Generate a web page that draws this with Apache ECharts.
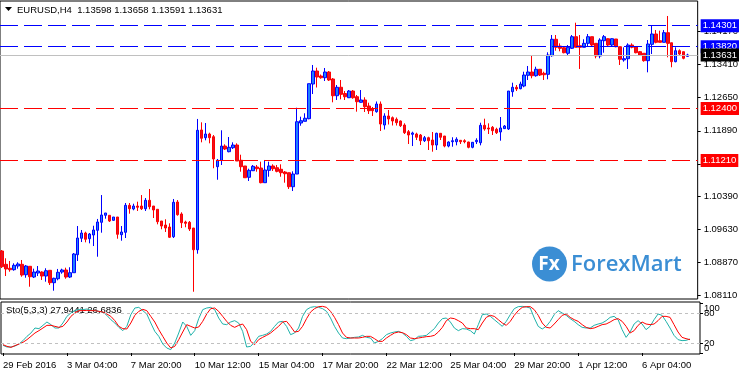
<!DOCTYPE html>
<html><head><meta charset="utf-8">
<script src="https://cdn.jsdelivr.net/npm/echarts@6/dist/echarts.min.js"></script>
<style>html,body{margin:0;padding:0;background:#fff}#c{width:741px;height:375px}</style>
</head><body><div id="c"></div>
<script>
// ---- DATA (EURUSD H4) ----
const open=[1.09133,1.08828,1.08737,1.08704,1.08789,1.08828,1.08589,1.08782,1.08536,1.08628,
1.08651,1.08559,1.0869,1.08406,1.08497,1.08651,1.08697,1.08536,1.08635,1.09048,
1.09425,1.09546,1.09415,1.095,1.09608,1.09791,1.09952,1.09952,1.09837,1.09913,
1.09507,1.09562,1.10181,1.10097,1.10165,1.10165,1.10103,1.10296,1.10165,1.1009,
1.09821,1.09729,1.09683,1.09461,1.10257,1.09982,1.09798,1.09791,1.0966,1.09162,
1.11909,1.11732,1.11817,1.11755,1.11067,1.11214,1.11541,1.11411,1.11502,1.11564,
1.11214,1.11083,1.10824,1.10975,1.1106,1.11037,1.107,1.10984,1.11083,1.11044,
1.11008,1.10945,1.10929,1.10608,1.10899,1.12069,1.12108,1.12168,1.12964,1.13262,
1.13147,1.13108,1.13239,1.13079,1.12695,1.12889,1.12746,1.12649,1.12803,1.12672,
1.12544,1.12597,1.12459,1.12397,1.12329,1.12505,1.12023,1.1223,1.12191,1.12155,
1.12115,1.12023,1.1187,1.1181,1.11817,1.11794,1.11663,1.11732,1.11679,1.11564,
1.11833,1.11771,1.11541,1.1164,1.1164,1.11672,1.11663,1.11633,1.11512,1.1164,
1.11617,1.12016,1.11955,1.11971,1.11925,1.11863,1.1194,1.11932,1.12787,1.12889,
1.12856,1.12918,1.13163,1.13239,1.13154,1.13302,1.13209,1.13186,1.13613,1.1399,
1.13835,1.13796,1.13668,1.13783,1.14049,1.13842,1.13806,1.13897,1.14049,1.13897,
1.13606,1.13957,1.14003,1.13858,1.13996,1.13819,1.13515,1.13544,1.13858,1.13819,
1.13705,1.13668,1.13499,1.13874,1.14111,1.13957,1.1392,1.14141,1.1391,1.13476,
1.13728,1.13705,1.13598];
const close=[1.08773,1.08721,1.08704,1.08805,1.08835,1.08582,1.08789,1.08543,1.08651,1.08674,
1.08559,1.08681,1.08406,1.08507,1.08644,1.08697,1.08536,1.08635,1.09064,1.09431,
1.09546,1.09402,1.09523,1.09615,1.09798,1.09959,1.10005,1.09821,1.09913,1.09516,
1.09569,1.10181,1.10103,1.10165,1.10136,1.10103,1.10296,1.10149,1.10074,1.09805,
1.09706,1.0966,1.09448,1.1025,1.09966,1.09782,1.09768,1.09638,1.09162,1.11902,
1.11719,1.11817,1.11732,1.11244,1.11214,1.11541,1.11473,1.11512,1.11564,1.11198,
1.11067,1.10814,1.10984,1.11076,1.11021,1.107,1.10991,1.11083,1.11021,1.10961,
1.10929,1.10906,1.10608,1.10899,1.12099,1.12122,1.12178,1.12971,1.13262,1.13124,
1.13108,1.13239,1.13056,1.12695,1.12889,1.12727,1.12672,1.12803,1.12649,1.12558,
1.12597,1.12443,1.12352,1.12352,1.12505,1.12046,1.1223,1.12162,1.12115,1.12076,
1.12007,1.11847,1.11794,1.1184,1.11742,1.11663,1.11732,1.11663,1.11564,1.11833,
1.11742,1.11541,1.11633,1.11663,1.11696,1.1164,1.1164,1.11512,1.11626,1.11672,
1.12016,1.11932,1.11932,1.11893,1.11847,1.11955,1.12,1.12803,1.12889,1.1285,
1.12964,1.1317,1.13239,1.13154,1.13302,1.1317,1.13177,1.13629,1.1399,1.13806,
1.13783,1.13682,1.13806,1.14049,1.13806,1.13806,1.13897,1.14049,1.13858,1.13606,
1.13973,1.14049,1.13858,1.14003,1.13819,1.13531,1.13544,1.13858,1.13806,1.13682,
1.13629,1.13499,1.13881,1.14111,1.1392,1.1392,1.14141,1.13897,1.13476,1.13728,
1.13652,1.13553,1.13631];
const high=[1.09156,1.08966,1.08904,1.08851,1.08874,1.08927,1.08812,1.08782,1.08727,1.08789,
1.08667,1.08737,1.0869,1.0852,1.08721,1.08727,1.0875,1.0876,1.09087,1.09706,
1.09615,1.09576,1.09546,1.09713,1.09868,1.10417,1.10005,1.09952,1.09913,1.09913,
1.09706,1.10234,1.10234,1.10218,1.10264,1.10417,1.10348,1.10556,1.10165,1.1009,
1.09821,1.09861,1.09768,1.10326,1.10303,1.10021,1.09828,1.09821,1.0966,1.12162,
1.12085,1.12069,1.11847,1.11794,1.11244,1.11902,1.1158,1.11748,1.11626,1.11603,
1.11342,1.11083,1.11021,1.11106,1.11106,1.11182,1.11221,1.11182,1.11122,1.11106,
1.11122,1.10968,1.10929,1.10961,1.1242,1.12214,1.12292,1.12971,1.134,1.13338,
1.13182,1.13331,1.13262,1.13101,1.12941,1.13056,1.12803,1.12826,1.12826,1.12711,
1.12826,1.12659,1.12535,1.12436,1.12563,1.12563,1.12292,1.12368,1.12219,1.12196,
1.12127,1.12062,1.11909,1.1187,1.11847,1.11817,1.11771,1.11755,1.11863,1.11847,
1.11833,1.11771,1.11649,1.11742,1.11742,1.11679,1.11696,1.1164,1.11633,1.11719,
1.12076,1.12168,1.12062,1.12,1.11961,1.12207,1.12023,1.12803,1.12994,1.12941,
1.13017,1.13246,1.13377,1.13629,1.13361,1.13302,1.13246,1.13691,1.14088,1.14088,
1.13897,1.13835,1.13858,1.14088,1.1437,1.14088,1.1399,1.14111,1.14049,1.13897,
1.14013,1.14088,1.14013,1.14013,1.13996,1.13819,1.13806,1.13897,1.13897,1.13819,
1.13721,1.13668,1.13973,1.14295,1.14203,1.14187,1.14203,1.14524,1.1391,1.13806,
1.13759,1.13705,1.13658];
const low=[1.08743,1.08559,1.08658,1.08681,1.08727,1.08543,1.0852,1.08314,1.08513,1.08559,
1.08468,1.08429,1.08353,1.08222,1.08461,1.08612,1.08497,1.08513,1.08635,1.08904,
1.09339,1.09332,1.09309,1.09247,1.09002,1.09553,1.09874,1.09798,1.09828,1.09415,
1.09369,1.09431,1.09989,1.10067,1.10051,1.10074,1.10051,1.1009,1.0989,1.09745,
1.09631,1.09569,1.09431,1.09431,1.09943,1.0966,1.09677,1.09592,1.08199,1.09071,
1.11626,1.11672,1.11603,1.11031,1.10768,1.11106,1.1145,1.11397,1.11473,1.11198,
1.10952,1.10814,1.10739,1.10968,1.10952,1.10686,1.107,1.10837,1.10968,1.10938,
1.10837,1.107,1.10556,1.10509,1.10899,1.12007,1.12108,1.12155,1.12734,1.12884,
1.13085,1.13033,1.13033,1.12544,1.12597,1.12613,1.12597,1.12642,1.12626,1.12329,
1.12535,1.12322,1.12276,1.1223,1.12306,1.11886,1.1192,1.12035,1.12012,1.12012,
1.11977,1.11817,1.11587,1.11541,1.11679,1.11564,1.11633,1.1145,1.11411,1.1145,
1.11679,1.11512,1.11512,1.11525,1.11557,1.11587,1.11603,1.11489,1.11489,1.11587,
1.11557,1.11893,1.11817,1.11794,1.11817,1.11663,1.11932,1.11909,1.12672,1.12803,
1.12843,1.12889,1.13056,1.13095,1.13131,1.13147,1.13056,1.13072,1.1359,1.13728,
1.13714,1.13668,1.13629,1.13767,1.13806,1.13309,1.13806,1.13835,1.13835,1.13553,
1.13553,1.13682,1.13835,1.13835,1.13806,1.134,1.13476,1.13309,1.13783,1.13668,
1.13606,1.13476,1.13232,1.13652,1.13897,1.1392,1.1392,1.13576,1.13348,1.13462,
1.13629,1.13531,1.13591];
// Stochastic(5,3,3): %K (main) and %D (signal)
const stoK=[15.3,12,12,14,18,24.7,33.3,40,50,48.7,
55.3,62,56.7,50,50,60,73.3,80,85.3,86.7,
86.7,88,85.3,84.7,83.3,82,75.3,66.7,60,51.3,
44.7,53.3,76.7,90,91.3,84.7,78,60,43.3,33.3,
18,10,6.7,20,40,62,53.3,35.3,44.7,68.7,
86.7,90,91.3,86.7,70,58,56.7,62,64.7,60,
43.3,12,13.3,22,33.3,35.3,38,43.3,53.3,62,
63.3,53.3,36.7,40,50,73.3,86.7,91.3,92.7,91.3,
88.7,83.3,70,53.3,40,30,28.7,30,31.3,32,
35.3,31.3,30,20,23.3,28.7,36.7,40,42,43.3,
40,33.3,24.7,26.7,33.3,34,35.3,42,48.7,60,
68.7,70,62,50,44.7,48.7,48,44.7,38,56.7,
76.7,78,73.3,66.7,60,53.3,63.3,76.7,88.7,92.7,
93.3,92,90,70,53.3,48,53.3,63.3,76.7,84.7,
80,75.3,68.7,63.3,56.7,51.3,50,50,55.3,58,
60,64.7,71.3,73.3,66.7,46.7,31.3,42,58,64.7,
58,46.7,53.3,66.7,78,75.3,63.3,50,35.3,26.7,
24.7,25.3,27.9441];
const stoD=[16.7,13.3,11.3,14.7,18,21.3,26.7,33.3,40,44.7,
50,55.3,55.3,53.3,51.3,53.3,62,73.3,80,84.7,
84.7,85.3,84.7,84.7,83.3,82,78,73.3,64.7,53.3,
48.7,48,60,75.3,83.3,87.3,84.7,73.3,62,46.7,
33.3,20,10,13.3,26.7,42,56.7,53.3,50,52,
63.3,78,88.7,90,83.3,73.3,63.3,55.3,51.3,55.3,
58,46.7,23.3,16.7,26.7,31.3,35.3,40,46.7,53.3,
62,63.3,53.3,42,43.3,53.3,68.7,82,88.7,92.7,
93.3,91.3,83.3,71.3,56.7,40,31.3,30,30,30,
31.3,33.3,33.3,28.7,23.3,23.3,30,35.3,40,42,
40.7,36.7,30,28.7,30,31.3,32.7,33.3,35.3,42,
51.3,64.7,70,68.7,64.7,60,50,48.7,48.7,46.7,
60,71.3,75.3,73.3,66.7,60,55.3,63.3,75.3,84.7,
91.3,92.7,92.7,86.7,75.3,60,51.3,50,58,66.7,
75.3,78,71.3,66.7,63.3,56.7,51.3,48.7,50,53.3,
56.7,58,62,66.7,68.7,63.3,53.3,40,44.7,55.3,
62,58,56.7,58,64.7,73.3,73.3,71.3,56.7,42,
31.3,28.7,26.6836];
const levelPrices=[1.14301,1.13820,1.13631,1.12400,1.11210];
const priceTicks=[1.14170,1.13410,1.12650,1.11890,1.11130,1.10390,1.09630,1.08870,1.08110];
const timeTickLabels=['29 Feb 2016','3 Mar 04:00','7 Mar 20:00','10 Mar 12:00','15 Mar 04:00','17 Mar 20:00','22 Mar 12:00','25 Mar 04:00','29 Mar 20:00','1 Apr 12:00','6 Apr 04:00'];
const stoLevels=[20,80];
const stoLabelValues=[20,80];
const stoEndLabels=['100','0'];
const stoAxisTicks=[0,20,80,100];

// ---- categories: H4 bars from 29 Feb 2016 12:00, weekends skipped (+2 empty slots at right)
const SLOTS=open.length+2;
const categories=[];
(function(){
  let t=Date.UTC(2016,1,29,12);
  const p=n=>String(n).padStart(2,'0');
  while(categories.length<SLOTS){
    const d=new Date(t);const wd=d.getUTCDay();
    if(wd!==0&&wd!==6)categories.push(d.getUTCFullYear()+'.'+p(d.getUTCMonth()+1)+'.'+p(d.getUTCDate())+' '+p(d.getUTCHours())+':00');
    t+=4*3600*1000;
  }
})();
const ohlc=open.map((o,i)=>[o,close[i],low[i],high[i]]);
const last=open.length-1;

const FONT='Liberation Sans, Arial, sans-serif';
const FS=9.5;
const lvlStyle=[
  {c:'#0000ff',t:[18,6],bg:'#0000ff'},
  {c:'#0000ff',t:[18,6],bg:'#0000ff'},
  {c:'#c0c0c0',t:'solid',bg:'#000000'},
  {c:'#ff0000',t:[18,6],bg:'#ff0000'},
  {c:'#ff0000',t:[18,6],bg:'#ff0000'}
];
const tickEvery=16;
const isTick=(idx)=>idx%tickEvery===0&&idx/tickEvery<timeTickLabels.length;

const chart=echarts.init(document.getElementById('c'),null,{renderer:'canvas'});
chart.setOption({
  animation:false,
  backgroundColor:'#ffffff',
  grid:[
    {left:0,right:41,top:1,height:298,show:true,borderColor:'#000',borderWidth:1,backgroundColor:'#fff'},
    {left:0,right:41,top:302,height:52,show:true,borderColor:'#000',borderWidth:1,backgroundColor:'#fff'}
  ],
  xAxis:[
    {type:'category',gridIndex:0,data:categories,boundaryGap:true,show:false},
    {type:'category',gridIndex:1,data:categories,boundaryGap:true,
      axisLine:{show:false},
      axisTick:{show:true,alignWithLabel:true,interval:isTick,length:3,lineStyle:{color:'#000'}},
      axisLabel:{show:true,interval:isTick,align:'left',margin:6,color:'#000',fontFamily:FONT,fontSize:FS,
        formatter:(v,idx)=>timeTickLabels[idx/tickEvery]},
      splitLine:{show:false}}
  ],
  yAxis:[
    {type:'value',gridIndex:0,position:'right',min:1.08032,max:1.14868,
      axisLine:{show:false},splitLine:{show:false},
      axisTick:{show:true,customValues:priceTicks,length:3,lineStyle:{color:'#000'}},
      axisLabel:{show:true,customValues:priceTicks,margin:6,color:'#000',fontFamily:FONT,fontSize:FS,
        padding:[4,0,0,0],formatter:v=>v.toFixed(5)}},
    {type:'value',gridIndex:1,position:'right',min:-2,max:102,
      axisLine:{show:false},splitLine:{show:false},
      axisTick:{show:true,customValues:stoAxisTicks,length:3,lineStyle:{color:'#000'}},
      axisLabel:{show:true,customValues:stoLabelValues,margin:4,color:'#000',fontFamily:FONT,fontSize:FS}}
  ],
  series:[
    {type:'candlestick',xAxisIndex:0,yAxisIndex:0,data:ohlc,barWidth:3,z:3,
      itemStyle:{color:'#1E7FFF',color0:'#E81123',borderColor:'#0000FF',borderColor0:'#FF0000',borderWidth:1}},
    {type:'line',name:'levels',xAxisIndex:0,yAxisIndex:0,data:[],z:2,
      markLine:{silent:true,symbol:['none','none'],animation:false,precision:5,
        data:levelPrices.map((p,k)=>({yAxis:p,
          lineStyle:{color:lvlStyle[k].c,type:lvlStyle[k].t,width:1},
          label:{show:true,position:'end',distance:3,formatter:p.toFixed(5),color:'#fff',
            backgroundColor:lvlStyle[k].bg,fontFamily:FONT,fontSize:FS,lineHeight:11,padding:[1,2,1,2]}}))}
    },
    {type:'line',name:'K',xAxisIndex:1,yAxisIndex:1,data:stoK,showSymbol:false,symbol:'none',
      lineStyle:{color:'#20B2AA',width:1},itemStyle:{color:'#20B2AA'},
      markLine:{silent:true,symbol:['none','none'],animation:false,
        data:stoLevels.map(v=>({yAxis:v,lineStyle:{color:'#c0c0c0',type:[3,3],width:1},label:{show:false}}))}
    },
    {type:'line',name:'D',xAxisIndex:1,yAxisIndex:1,data:stoD,showSymbol:false,symbol:'none',
      lineStyle:{color:'#FF0000',width:1},itemStyle:{color:'#FF0000'}}
  ],
  graphic:[
    {type:'polygon',shape:{points:[[5,7],[12,7],[8.5,11]]},style:{fill:'#000'}},
    {type:'text',style:{x:17,y:10,text:'EURUSD,H4  '+open[last].toFixed(5)+' '+high[last].toFixed(5)+' '+low[last].toFixed(5)+' '+close[last].toFixed(5),
      fill:'#000',fontFamily:FONT,fontSize:FS,verticalAlign:'middle',align:'left'}},
    {type:'text',style:{x:6,y:310.5,text:'Sto(5,3,3) '+stoK[last].toFixed(4)+' '+stoD[last].toFixed(4),
      fill:'#000',fontFamily:FONT,fontSize:FS,verticalAlign:'middle',align:'left'}},
    {type:'text',style:{x:704,y:308,text:stoEndLabels[0],fill:'#000',fontFamily:FONT,fontSize:FS,verticalAlign:'middle',align:'left'}},
    {type:'text',style:{x:704,y:348,text:stoEndLabels[1],fill:'#000',fontFamily:FONT,fontSize:FS,verticalAlign:'middle',align:'left'}},
    {type:'circle',shape:{cx:549.5,cy:264,r:17.5},style:{fill:'#3b8ed4'}},
    {type:'text',style:{x:549,y:265,text:'Fx',fill:'#fff',fontFamily:'Open Sans',fontWeight:'bold',fontSize:19,verticalAlign:'middle',align:'center'}},
    {type:'text',style:{x:571,y:264.5,text:'ForexMart',fill:'#3b8ed4',fontFamily:'Open Sans',fontWeight:600,fontSize:22,verticalAlign:'middle',align:'left'}}
  ]
});
</script>
</body></html>
